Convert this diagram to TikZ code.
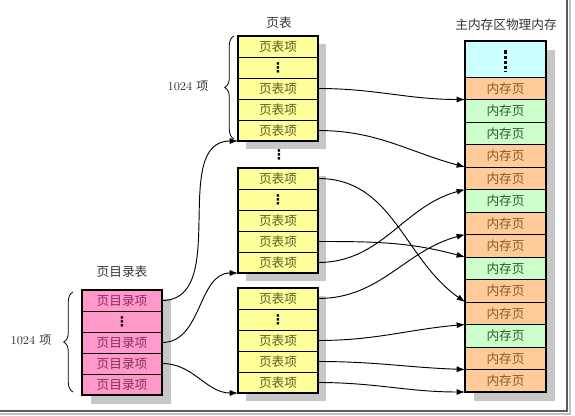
\documentclass[tikz,border=0pt]{standalone}
\usepackage{fontspec}
\newfontfamily\cjk{Noto Sans CJK SC}
\newfontfamily\dotfont{DejaVu Sans}
\usetikzlibrary{arrows.meta,positioning,backgrounds,decorations.pathreplacing}
\definecolor{ptyellow}{HTML}{FFFF99}
\definecolor{pttext}{HTML}{5C5C2E}
\definecolor{pdpink}{HTML}{FF99CC}
\definecolor{pdtext}{HTML}{8A2E5C}
\definecolor{memor}{HTML}{FFCC99}
\definecolor{memortext}{HTML}{8A5A2E}
\definecolor{memgr}{HTML}{CCFFCC}
\definecolor{memgrtext}{HTML}{2E5C2E}
\definecolor{memcyan}{HTML}{CCFFFF}
\newcommand{\vdotsym}{{\dotfont\bfseries\fontsize{10}{10}\selectfont ⋮}}

\begin{document}
\begin{tikzpicture}[
    x=0.75pt, y=-0.75pt,
    cell/.style={draw=black, line width=0.6pt, minimum width=60pt,
                 minimum height=15.75pt, inner sep=0pt, outer sep=0pt,
                 font=\cjk\fontsize{9.5}{10}\selectfont},
    pte/.style={cell, fill=ptyellow, text=pttext},
    pde/.style={cell, fill=pdpink, text=pdtext},
    mempage/.style={cell, minimum width=60.75pt, minimum height=16.875pt},
    title/.style={font=\cjk\fontsize{9.5}{11}\selectfont, text=black!80},
    count/.style={font=\fontsize{9}{11}\selectfont, text=black!80},
    outline/.style={draw=black, line width=1.4pt},
    shade/.style={fill=black!22},
    brc/.style={decorate, decoration={brace, amplitude=7pt}, line width=0.6pt},
    ptr/.style={-{Latex[length=2.2mm, width=1.6mm]}, line width=0.7pt}
]
\useasboundingbox (0,0) rectangle (575,416);

% page directory
\node[title] (pdtitle) at (122,272) {页目录表};
\node[pde, anchor=north west] (d1) at (82,290) {页目录项};
\node[pde, below=0pt of d1, text=black] (d2) {\vdotsym};
\node[pde, below=0pt of d2] (d3) {页目录项};
\node[pde, below=0pt of d3] (d4) {页目录项};
\node[pde, below=0pt of d4] (d5) {页目录项};
\draw[outline] (d1.north west) rectangle (d5.south east);

% page tables
\node[title] (pttitle) at (279,23) {页表};
\foreach \t/\y in {1/36,2/168,3/288} {
  \node[pte, anchor=north west] (t\t r1) at (238,\y) {页表项};
  \node[pte, below=0pt of t\t r1, text=black] (t\t r2) {\vdotsym};
  \node[pte, below=0pt of t\t r2] (t\t r3) {页表项};
  \node[pte, below=0pt of t\t r3] (t\t r4) {页表项};
  \node[pte, below=0pt of t\t r4] (t\t r5) {页表项};
  \draw[outline] (t\t r1.north west) rectangle (t\t r5.south east);
}
\node[inner sep=0pt] (gap) at (279,155) {\vdotsym};

% physical memory
\node[title] (memtitle) at (506,25) {主内存区物理内存};
\node[mempage, fill=memcyan, minimum height=27pt, anchor=north west] (m0) at (465,41) {};
\draw[line width=2.4pt, dash pattern=on 2.6pt off 1.3pt]
  ([yshift=-7pt]m0.north) -- ([yshift=4pt]m0.south);
\foreach \i/\c in {1/or,2/gr,3/gr,4/or,5/or,6/gr,7/or,8/or,9/gr,10/or,11/or,12/gr,13/or,14/or} {
  \pgfmathtruncatemacro\prev{\i-1}
  \node[mempage, fill=mem\c, text=mem\c text, below=0pt of m\prev] (m\i) {内存页};
}
\draw[outline] (m0.north west) rectangle (m14.south east);

% shadows
\begin{scope}[on background layer]
  \fill[shade] ([shift={(9,9)}]d1.north west) rectangle ([shift={(9,9)}]d5.south east);
  \foreach \t in {1,2,3}
    \fill[shade] ([shift={(8,8)}]t\t r1.north west) rectangle ([shift={(8,8)}]t\t r5.south east);
  \fill[shade] ([shift={(9,9)}]m0.north west) rectangle ([shift={(9,9)}]m14.south east);
\end{scope}

% braces
\coordinate (b1top) at (234,36);
\coordinate (b1bot) at (234,139);
\coordinate (b2top) at (73,292);
\coordinate (b2bot) at (73,392);
\draw[brc] (b1bot) -- (b1top);
\draw[brc] (b2bot) -- (b2top);
\node[count] (n1) at (188,86) {1024 {\cjk 项}};
\node[count] (n2) at (31,340) {1024 {\cjk 项}};

% directory -> page tables
\draw[ptr] (d1.east) to[out=0, in=180] (t1r5.south west);
\draw[ptr] (d3.east) to[out=0, in=180] (t2r5.south west);
\draw[ptr] (d4.east) to[out=0, in=180] (t3r5.south west);

% page tables -> memory pages
\draw[ptr] (t1r3.east) to[out=0, in=180] (m2.north west);
\draw[ptr] (t1r5.east) to[out=0, in=165] (m5.north west);
\draw[ptr] (t2r1.east) to[out=0, in=145] (m11.north west);
\draw[ptr] (t2r4.east) to[out=0, in=165] (m9.north west);
\draw[ptr] (t2r5.east) to[out=0, in=195] (m6.north west);
\draw[ptr] (t3r1.east) to[out=0, in=195] (m8.north west);
\draw[ptr] (t3r3.east) to[out=0, in=185] (m12.north west);
\draw[ptr] (t3r4.east) to[out=0, in=178] (m14.north west);
\draw[ptr] (t3r5.east) to[out=0, in=180] (m14.south west);

% frame
\draw[black!65, line width=1.2pt] (0,411) -- (567,411) -- (567,0);
\draw[black!25, line width=0.8pt] (0,414) -- (570,414) -- (570,0);
\end{tikzpicture}
\end{document}
